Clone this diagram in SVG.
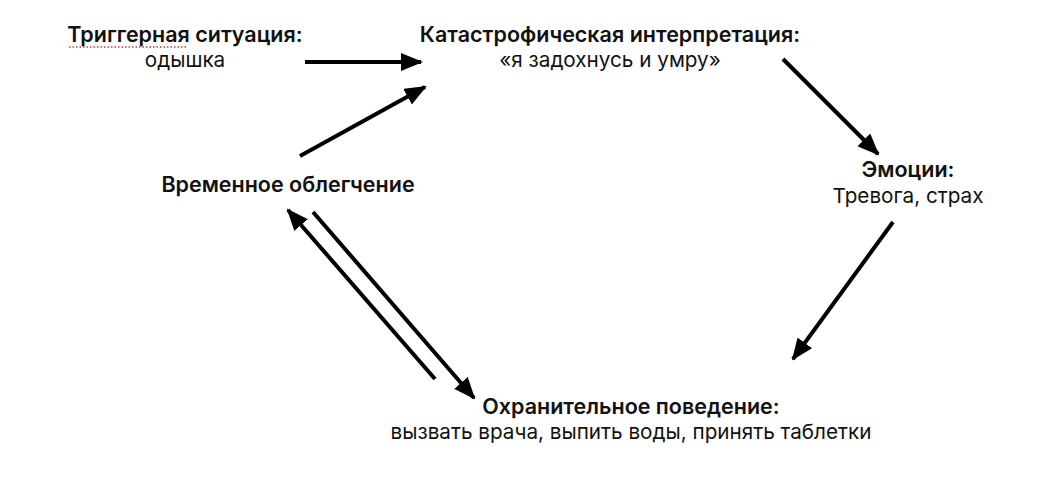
<svg xmlns="http://www.w3.org/2000/svg" width="1050" height="485" viewBox="0 0 1050 485">
<style>
  text { font-family: Inter, "Noto Sans", "Liberation Sans", sans-serif; font-size: 20.7px; fill: #111; text-anchor: middle; }
  .b { font-weight: 600; font-size: 21.5px; }
  .c { stroke: #000; stroke-width: 4; fill: none; marker-end: url(#ah); }
</style>
<defs>
  <marker id="ah" markerUnits="userSpaceOnUse" markerWidth="22" markerHeight="18" refX="20" refY="9" orient="auto">
    <path d="M0,0 L22,9 L0,18 Z" fill="#000"/>
  </marker>
</defs>
<rect width="1050" height="485" fill="#fff"/>
<g id="trigger">
  <text class="b" x="185" y="42">Триггерная ситуация:</text>
  <text x="185" y="67">одышка</text>
  <line x1="69" y1="47" x2="188" y2="47" stroke="#d33" stroke-width="1.5" stroke-dasharray="1.5,2"/>
</g>
<g id="interpretation">
  <text class="b" x="610" y="42">Катастрофическая интерпретация:</text>
  <text x="610" y="67">«я задохнусь и умру»</text>
</g>
<g id="emotions">
  <text class="b" x="908" y="177">Эмоции:</text>
  <text x="908" y="203">Тревога, страх</text>
</g>
<g id="relief">
  <text class="b" x="288" y="192">Временное облегчение</text>
</g>
<g id="behavior">
  <text class="b" x="631" y="414">Охранительное поведение:</text>
  <text x="631" y="439">вызвать врача, выпить воды, принять таблетки</text>
</g>
<g id="connectors">
  <line class="c" x1="305" y1="62" x2="421" y2="62"/>
  <line class="c" x1="300" y1="156" x2="425" y2="87"/>
  <line class="c" x1="783" y1="59" x2="878" y2="154"/>
  <line class="c" x1="893" y1="222" x2="793" y2="359"/>
  <line class="c" x1="435" y1="379" x2="288" y2="210"/>
  <line class="c" x1="313" y1="212" x2="474" y2="398"/>
</g>
</svg>
